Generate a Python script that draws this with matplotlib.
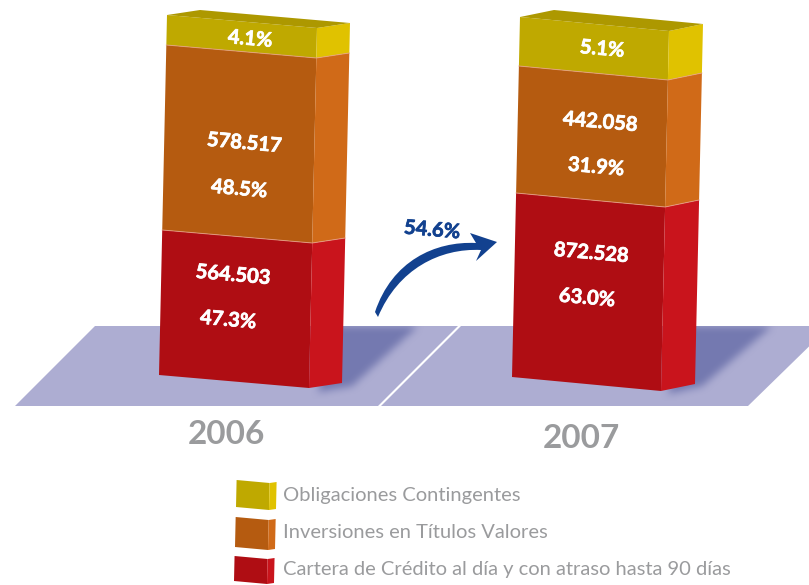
import numpy as np
import matplotlib
matplotlib.use('Agg')
import matplotlib.pyplot as plt
import matplotlib.patheffects as pe
from matplotlib.patches import Polygon, PathPatch
from matplotlib.path import Path

plt.rcParams['font.family'] = ['Lato', 'DejaVu Sans']

# data (bottom to top of each stack)
years = ['2006', '2007']
categories = ['Cartera de Crédito al día y con atraso hasta 90 días', 'Inversiones en Títulos Valores', 'Obligaciones Contingentes']
amounts_2006 = ['564.503', '578.517', None]
amounts_2007 = ['872.528', '442.058', None]
shares_2006 = ['47.3%', '48.5%', '4.1%']
shares_2007 = ['63.0%', '31.9%', '5.1%']
# segment heights as drawn, the picture does not keep them proportional
heights_2006 = [145, 185, 30]
heights_2007 = [184, 127, 49]
growth = '54.6%'

front_cols = ['#AF0D13', '#B55B10', '#BFA900']
side_cols = ['#C9141C', '#D06A18', '#E0C200']
top_col = '#AD9800'
floor_col = '#ADADD2'
shadow_col = '#7479B0'
grey = '#9A9B9D'
blue = '#12418F'

SHEAR = 8 / 360

fig = plt.figure(figsize=(8.09, 5.85), dpi=100)
ax = fig.add_axes([0, 0, 1, 1])


def floor(x_top, x_bot_l, x_bot_r, x_top_r):
    p = Polygon([(x_top, 326), (x_bot_l, 406), (x_bot_r, 406), (x_top_r, 326)], fc=floor_col, ec='none', zorder=1)
    ax.add_patch(p)
    return p


def shadow(pts, clip):
    # soft shadow: polygon mask, blurred with two box passes
    xx, yy = np.meshgrid(np.arange(809) + .5, np.arange(585) + .5)
    mask = Path(pts).contains_points(np.c_[xx.ravel(), yy.ravel()]).reshape(xx.shape).astype(float)
    k = np.ones(9) / 9
    for i in range(2):
        mask = np.apply_along_axis(lambda r: np.convolve(r, k, mode='same'), 0, mask)
        mask = np.apply_along_axis(lambda r: np.convolve(r, k, mode='same'), 1, mask)
    img = np.zeros(mask.shape + (4,))
    img[..., :3] = matplotlib.colors.to_rgb(shadow_col)
    img[..., 3] = mask
    im = ax.imshow(img, extent=(0, 809, 585, 0), zorder=2, interpolation='bilinear', aspect='auto')
    im.set_clip_path(clip)


def stack(x0, y0, w, dy, dw, dy2, heights, top=True, seam=True):
    h0 = 0
    for i, h in enumerate(heights):
        h1 = h0 + h
        def l(v): return (x0 + SHEAR * v, y0 - v)
        def r(v): return (x0 + w + SHEAR * v, y0 + dy - v)
        def s(v): return (x0 + w + dw + SHEAR * v, y0 + dy + dy2 - v)
        ax.add_patch(Polygon([l(h0), r(h0), r(h1), l(h1)], fc=front_cols[i], ec='none', zorder=3))
        ax.add_patch(Polygon([r(h0), s(h0), s(h1), r(h1)], fc=side_cols[i], ec='none', zorder=3))
        if seam and i > 0:
            ax.plot(*zip(l(h0), r(h0), s(h0)), color='#E8A08A', lw=.7, alpha=.8, zorder=4)
        h0 = h1
    if top:
        a, b = l(h0), r(h0)
        c = s(h0)
        d = (c[0] - w, c[1] - dy)
        ax.add_patch(Polygon([a, b, c, d], fc=top_col, ec='none', zorder=3))


f1 = floor(95, 15, 378, 458)
f2 = floor(461, 381, 748, 830)
shadow([(335, 326), (418, 326), (352, 386), (318, 392)], f1)
shadow([(688, 326), (772, 326), (702, 386), (668, 394)], f2)

stack(159, 375, 150, 13, 33, -5, heights_2006)
stack(512, 377, 149, 14, 34, -7, heights_2007)

# labels on the bars
heavy = [pe.withStroke(linewidth=.5, foreground='white')]
lab = dict(color='white', fontsize=14.5, fontweight='bold', rotation=-5, ha='center', va='center', rotation_mode='anchor', zorder=5, path_effects=heavy)
ax.text(250, 39, shares_2006[2], **lab)
ax.text(244, 143, amounts_2006[1], **lab)
ax.text(239, 189, shares_2006[1], **lab)
ax.text(233, 275, amounts_2006[0], **lab)
ax.text(228, 320, shares_2006[0], **lab)
ax.text(602, 49, shares_2007[2], **lab)
ax.text(600, 122, amounts_2007[1], **lab)
ax.text(596, 167, shares_2007[1], **lab)
ax.text(591, 253, amounts_2007[0], **lab)
ax.text(587, 298, shares_2007[0], **lab)

ax.text(226, 435, years[0], color=grey, fontsize=24, fontweight='bold', ha='center', va='center')
ax.text(581, 438, years[1], color=grey, fontsize=24, fontweight='bold', ha='center', va='center')

# growth arrow
verts = [(375, 312), (392, 261), (435, 241), (476, 243), (470, 233), (497, 242), (476, 261), (481, 250),
         (440, 248), (398, 269), (378, 317), (375, 312)]
codes = [Path.MOVETO, Path.CURVE4, Path.CURVE4, Path.CURVE4, Path.LINETO, Path.LINETO, Path.LINETO, Path.LINETO,
         Path.CURVE4, Path.CURVE4, Path.CURVE4, Path.CLOSEPOLY]
ax.add_patch(PathPatch(Path(verts, codes), fc=blue, ec='none', zorder=5))
ax.text(432, 230, growth, color=blue, fontsize=14.5, fontweight='bold', rotation=-5, ha='center', va='center', rotation_mode='anchor',
        path_effects=[pe.withStroke(linewidth=.5, foreground=blue)])

# legend with small boxes
leg_base = [581, 547, 507]
leg_h = [25, 30, 27]
leg_text_y = [570, 532, 495]
for i, cat in enumerate(categories):
    one = [0, 0, 0]
    one[i] = leg_h[i]
    stack(234 + i, leg_base[i], 33, 3, 7, -1, one, top=False, seam=False)
    ax.text(283, leg_text_y[i], cat, color=grey, fontsize=14.5, ha='left', va='center')

ax.set_xlim(0, 809)
ax.set_ylim(585, 0)
ax.axis('off')

plt.savefig('out.png', dpi=100)
